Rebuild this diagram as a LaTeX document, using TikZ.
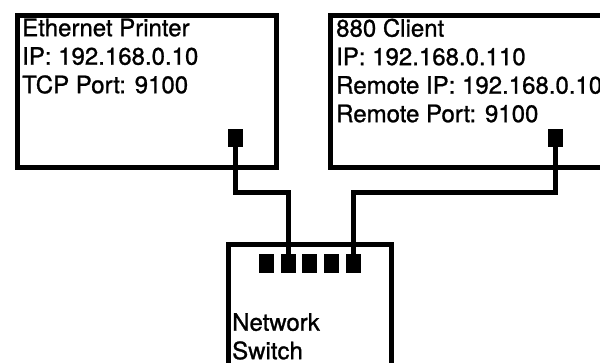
\documentclass[tikz,border=0pt]{standalone}
\usepackage{fontspec}
\setmainfont[FakeBold=1]{TeX Gyre Heros}
\usetikzlibrary{calc}

\tikzset{
    unitbox/.style={draw, line width=5pt, anchor=north west, inner sep=0pt},
    port/.style={fill=black, minimum width=15pt, minimum height=18pt, inner sep=0pt},
    cable/.style={line width=5pt},
    info/.style={align=left, inner sep=0pt, anchor=north west, font=\fontsize{24pt}{28.5pt}\selectfont}
}

\begin{document}
\begin{tikzpicture}[x=1pt, y=-1pt]
    \useasboundingbox (0,0) rectangle (600,362);
    \clip (0,0) rectangle (600,362);

    % Printer
    \node[unitbox, minimum width=259pt, minimum height=152pt] (printer) at (14.5,12.5) {};
    \node[info] (printertext) at (22,18.5) {Ethernet Printer\\IP: 192.168.0.10\\TCP Port: 9100};
    \node[port] (pport) at (235.5,138) {};

    % Client, runs off the right edge
    \node[unitbox, minimum width=300pt, minimum height=152pt] (client) at (327.5,12.5) {};
    \node[info] (clienttext) at (336,18.5) {880 Client\\IP: 192.168.0.110\\Remote IP: 192.168.0.10\\Remote Port: 9100};
    \node[port] (cport) at (555.5,138) {};

    % Switch, runs off the bottom edge
    \node[unitbox, minimum width=163pt, minimum height=140pt] (switch) at (225.5,241.5) {};
    \node[info] (switchtext) at (232,313) {Network\\Switch};
    \foreach \i in {1,...,5}
        \node[port, minimum height=19pt] (sport\i) at ({266.3+(\i-1)*21.8},263.5) {};

    % Cables
    \coordinate (cableL) at (sport2 |- 0,192.5);
    \coordinate (cableR) at (sport5 |- 0,192.5);
    \draw[cable] (pport.center) |- (cableL) -- (sport2.center);
    \draw[cable] (cport.center) |- (cableR) -- (sport5.center);
\end{tikzpicture}
\end{document}
